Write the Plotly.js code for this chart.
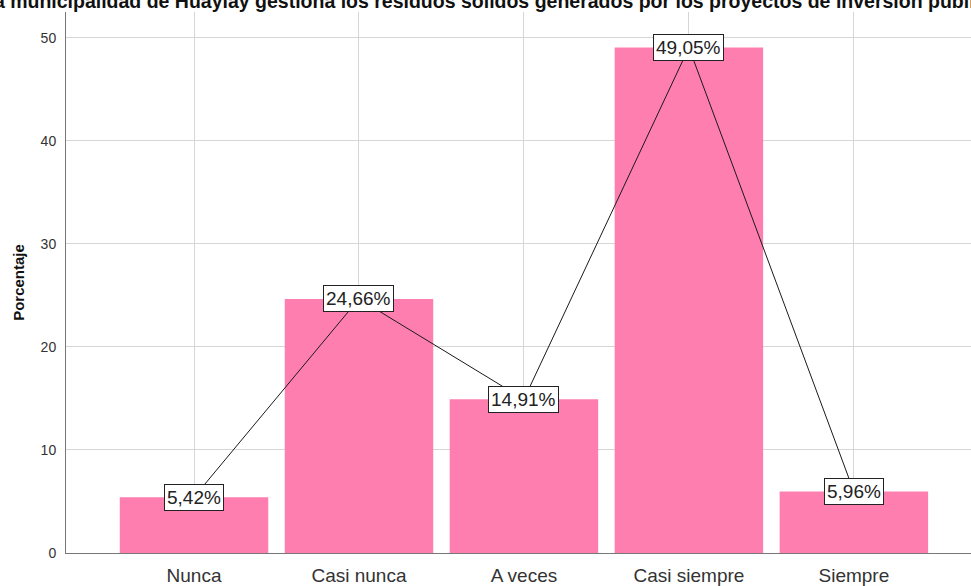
<!DOCTYPE html>
<html>
<head>
<meta charset="utf-8">
<script src="https://cdn.plot.ly/plotly-3.0.1.min.js"></script>
<style>html,body{margin:0;padding:0;background:#fff;}#chart{width:971px;height:586px;}</style>
</head>
<body>
<div id="chart"></div>
<script>
const categories = ["Nunca", "Casi nunca", "A veces", "Casi siempre", "Siempre"];
const percentages = [5.42, 24.66, 14.91, 49.05, 5.96];
const yTicks = [0, 10, 20, 30, 40, 50];
const chartTitle = "La municipalidad de Huaylay gestiona los residuos sólidos generados por los proyectos de inversión pública";
const yTitle = "Porcentaje";

const FONT = 'Liberation Sans, Arial, sans-serif';
const xIdx = categories.map((c, i) => i);
const fmt = v => v.toFixed(2).replace('.', ',') + '%';

const traces = [
  {
    type: 'bar', x: xIdx, y: percentages, width: 0.9,
    marker: {color: '#FF7EB0', line: {width: 0}},
    hoverinfo: 'skip'
  },
  {
    type: 'scatter', mode: 'lines', x: xIdx, y: percentages,
    line: {color: '#1a1a1a', width: 1},
    hoverinfo: 'skip'
  }
];

const annotations = percentages.map((v, i) => ({
  x: i, y: v, xref: 'x', yref: 'y', text: fmt(v), showarrow: false,
  font: {family: FONT, size: 19, color: '#222'},
  bgcolor: '#ffffff', bordercolor: '#222', borderwidth: 1, borderpad: 2,
  xanchor: 'center', yanchor: 'middle'
}));

annotations.push({
  text: '<b>' + chartTitle + '</b>', showarrow: false,
  xref: 'paper', yref: 'paper', x: 0.4675, y: 1, xanchor: 'center', yanchor: 'bottom',
  yshift: -1, borderpad: 0,
  font: {family: FONT, size: 19.5, color: '#111'}
});

const layout = {
  width: 971, height: 586,
  margin: {l: 66, r: 0, t: 12, b: 33},
  paper_bgcolor: '#ffffff', plot_bgcolor: '#ffffff',
  showlegend: false,
  xaxis: {
    range: [-0.776, 4.71],
    tickmode: 'array', tickvals: xIdx, ticktext: categories,
    showgrid: true, gridcolor: '#d6d6d6', gridwidth: 1,
    showline: true, linecolor: '#777', linewidth: 1,
    ticks: '', zeroline: false, ticklabelstandoff: 5,
    tickfont: {family: FONT, size: 19, color: '#333'}
  },
  yaxis: {
    range: [0, 52.5],
    tickmode: 'array', tickvals: yTicks, ticktext: yTicks.map(String),
    showgrid: true, gridcolor: '#d6d6d6', gridwidth: 1,
    showline: true, linecolor: '#777', linewidth: 1,
    ticks: '', ticklabelstandoff: 6, zeroline: false,
    tickfont: {family: FONT, size: 14, color: '#333'},
    title: {text: yTitle, standoff: 12,
      font: {family: FONT, size: 15, color: '#111', weight: 'bold'}}
  },
  annotations: annotations
};

Plotly.newPlot('chart', traces, layout, {displayModeBar: false, staticPlot: true});
</script>
</body>
</html>
